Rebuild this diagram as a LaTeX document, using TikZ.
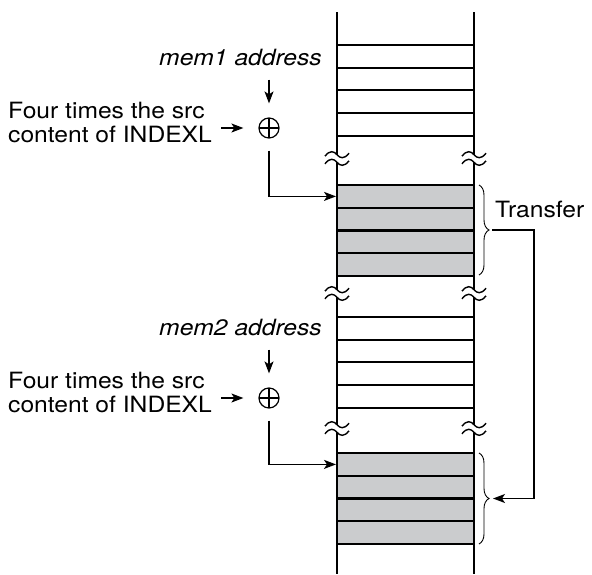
\documentclass[tikz,border=0pt]{standalone}
\usepackage{fontspec}
\setmainfont{TeX Gyre Heros}[FakeStretch=1.1]
\usetikzlibrary{arrows.meta,decorations.pathreplacing}
\definecolor{cellgray}{RGB}{203,204,206}
\begin{document}
\begin{tikzpicture}[x=1pt,y=-1pt,
  lbl/.style={font=\fontsize{22.4}{24}\selectfont, inner sep=0pt},
  col/.style={line width=2.5pt},
  rowline/.style={line width=2pt},
  cell/.style={fill=cellgray, draw=black, line width=2pt, minimum width=137pt, minimum height=22.75pt, inner sep=0pt},
  arr/.style={line width=1.4pt, -{Stealth[length=12pt,width=9pt,inset=3pt]}},
  plus/.style={circle, draw, line width=1.2pt, minimum size=20pt, inner sep=0pt,
    path picture={\draw[line width=1.2pt] (path picture bounding box.north) -- (path picture bounding box.south)
      (path picture bounding box.west) -- (path picture bounding box.east);}},
  brc/.style={decorate, decoration={brace, amplitude=10pt, aspect=0.5}, line width=0.9pt},
  brk/.style={line width=1.4pt}
]
\useasboundingbox (0,0) rectangle (592,574);

% column verticals with breaks
\foreach \x in {337,474}{
  \draw[col] (\x,12) -- (\x,154.5) (\x,162) -- (\x,289.5) (\x,297) -- (\x,424.5) (\x,432) -- (\x,574);
}
% white row lines
\foreach \y in {45,68,90,113,136,317,340,362,385,408}{
  \draw[rowline] (337,\y) -- (474,\y);
}
% gray cells
\foreach \i/\y in {1/196.4,2/219.1,3/241.9,4/264.6}{
  \node[cell] (a\i) at (405.5,\y) {};
}
\foreach \i/\y in {1/464.4,2/487.1,3/509.9,4/532.6}{
  \node[cell] (b\i) at (405.5,\y) {};
}
% redraw verticals over cells
\foreach \x in {337,474}{
  \draw[col] (\x,184) -- (\x,277) (\x,452) -- (\x,545);
}
% break marks
\foreach \x in {337,474}{
  \foreach \y in {158.5,293.5,428.5}{
    \foreach \d in {-3.8,3.8}{
      \draw[brk] (\x-12,\y+\d+1.5) .. controls (\x-7,\y+\d-5) and (\x-3,\y+\d-3.5) .. (\x,\y+\d)
        .. controls (\x+3,\y+\d+3.5) and (\x+7,\y+\d+5) .. (\x+12,\y+\d-1.5);
    }
  }
}

% left side, group 1
\node[lbl, anchor=base east, font=\fontsize{22.4}{24}\selectfont\itshape] (mem1) at (322,65) {mem1 address};
\node[lbl, anchor=north west, align=left] (src1) at (8,102) {Four times the src\\content of INDEXL};
\node[plus] (p1) at (269,128) {};
\draw[arr, shorten <=14pt, shorten >=14pt] (p1 |- mem1.south) -- (p1.north);
\draw[arr, shorten <=9pt, shorten >=15pt] (src1.east |- p1.west) -- (p1.west);
\draw[arr, shorten <=12pt] (p1.south) -- (p1 |- a1.west) -- (a1.west);

% left side, group 2
\node[lbl, anchor=base east, font=\fontsize{22.4}{24}\selectfont\itshape] (mem2) at (322,335) {mem2 address};
\node[lbl, anchor=north west, align=left] (src2) at (8,372) {Four times the src\\content of INDEXL};
\node[plus] (p2) at (269,398) {};
\draw[arr, shorten <=14pt, shorten >=14pt] (p2 |- mem2.south) -- (p2.north);
\draw[arr, shorten <=9pt, shorten >=15pt] (src2.east |- p2.west) -- (p2.west);
\draw[arr, shorten <=12pt] (p2.south) -- (p2 |- b1.west) -- (b1.west);

% braces and transfer
\draw[brc] (479,185) -- (479,275);
\draw[brc] (479,453) -- (479,544);
\coordinate (t1) at (491,230);
\coordinate (t2) at (491,498.5);
\coordinate (tr) at (534,0);
\node[lbl, anchor=base west] (transfer) at (495,217) {Transfer};
\draw[arr, shorten <=1pt, shorten >=2pt] (t1) -- (t1 -| tr) -- (t2 -| tr) -- (t2);
\end{tikzpicture}
\end{document}
